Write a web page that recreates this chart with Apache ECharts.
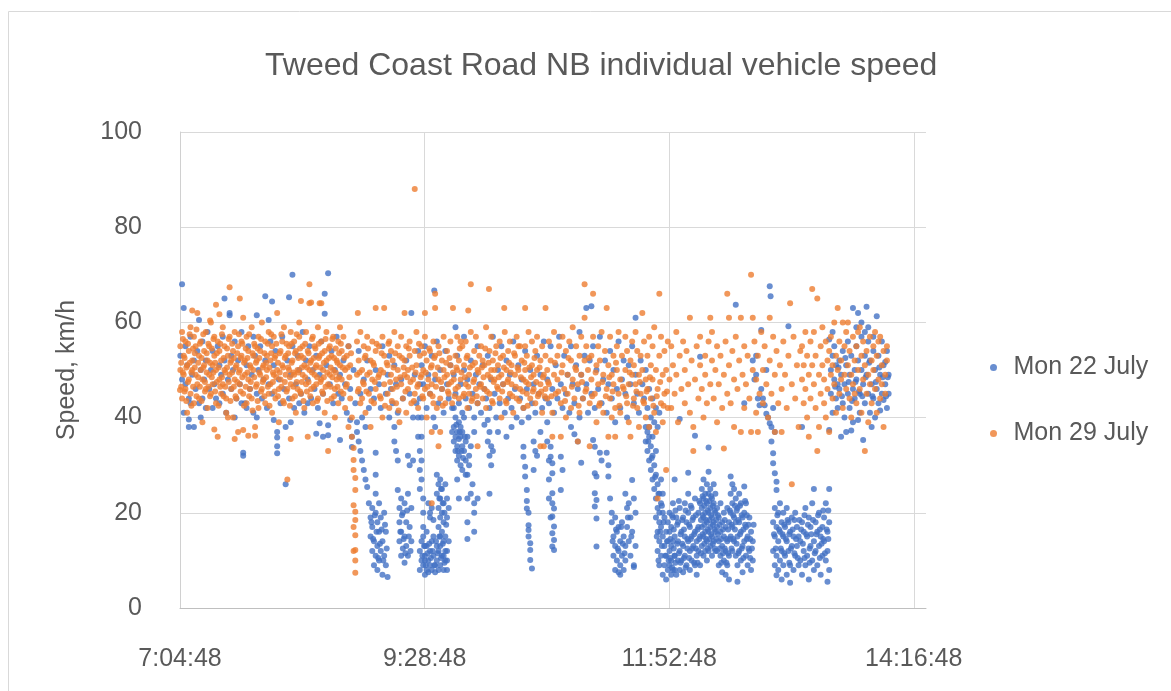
<!DOCTYPE html>
<html>
<head>
<meta charset="utf-8">
<title>Tweed Coast Road NB individual vehicle speed</title>
<script src="https://cdn.jsdelivr.net/npm/echarts@6/dist/echarts.min.js"></script>
<style>
  html, body { margin: 0; padding: 0; background: #fff; }
  #chart { width: 1171px; height: 691px; }
</style>
</head>
<body>
<div id="chart"></div>
<script>
// each point: [minutes after midnight, speed km/h]
const seriesNames = ["Mon 22 July", "Mon 29 July"];
const xTickStart = 424.8;   // 7:04:48
const xTickStep = 144;      // 2:24:00
const xAxisEnd = 864;       // 14:24:00
const yTicks = [0, 20, 40, 60, 80, 100];

// Mon 22 July (blue)
const blueEarly = [
  [424,50],[424,45],[425,53],[426,68],[426,48],[427,63],[427,41],[428,55],[428,47],[429,51],[430,39.6],[430,38],[430,44],[431,43],[431,57],[432,49],[433,38],[433,52],[434,46],[435,54],[436,60.5],[436,43],[437,40],[437,50],[438,56],[438,44],[439,48],[440,52],[440,42],[441,58],[442,46],[443,50],[444,42],[444,54],[445,47],[446,44],[447,55],[448,43],[448,51],[449,49],[450,57],[450,45],[451,65],[451,52],[452,41],[453,48],[454,62],[454,61.5],[455,53],[455,46],[456,50],[457,40],[457,56],[458,44],[459,52],[460,47],[461,58],[461,43],[462,32.6],[462,32],[463,43],[464,42],[464,51],[465,55],[466,46],[467,49],[468,41],[468,57],[469,53],[470,61.5],[470,40],[470,45],[471,50],[472,55],[473,44],[474,48],[475,65.5],[475,52],[476,42],[477,60.5],[477,47],[478,56],[479,64.4],[479,45],[480,39.5],[480,51],[481,54],[482,37],[482,35.8],[482,34],[482,32.5],[483,48],[484,43],[485,57],[486,46],[487,38],[487,26],[488,52],[489,65.3],[489,44],[490,39],[490,49],[491,70],[491,55],[492,42],[493,47],[494,53],[495,43],[495,50],[496,45],[497,58],[498,41],[499,52],[500,43],[500,48],[501,55],[502,44],[503,50],[504,46],[505,36.6],[505,53],[506,42],[507,38.8],[507,49],[508,56],[509,36],[509,45],[510,61.8],[510,66],[511,51],[512,70.3],[512,38.4],[512,36.3],[513,47],[514,54],[515,43],[516,50],[517,57],[518,45],[519,35.3],[519,49]
];
const blueDropA = [
  [520,44],[521,52],[522,47],[523,41],[524,55],[525,39.5],[525,46],[526,36],[526,33.8],[527,50],[528,43],[529,39],[529,37],[530,35],[530,54],[531,33],[531,45],[532,31],[532,40],[533,29],[533,48],[534,27],[534,38],[535,25.4],[535,52],[536,22],[536,42],[537,19],[537,15],[537,46],[538,21],[538,12],[538,17],[539,9],[539,14],[539,44],[540,32.6],[540,28],[540,24],[540,20],[540,11],[540,50],[541,18],[541,13],[541,8],[542,22],[542,16],[542,10],[542,47],[543,19],[543,12],[543,42],[544,14],[544,7],[544,55],[545,20],[545,11],[546,16],[546,9],[546,45],[547,6.5],[547,49],[548,40],[548,53],[549,46],[550,43],[551,38],[551,35],[551,51],[552,33],[552,47],[553,31],[553,24.8],[553,41],[554,21],[554,18],[554,14],[555,23],[555,16],[555,11],[555,48],[556,20],[556,12.5],[556,44],[557,22],[557,15],[557,9.5],[558,18],[558,13],[558,52],[559,32],[559,24],[559,11],[560,30],[560,17],[560,45],[561,21],[561,14],[561,62],[562,31],[562,40],[563,49],[564,43],[565,40],[565,36],[565,54],[566,33],[566,29],[566,25],[566,47],
  [537.5,18],[538.5,14.5],[539.5,19.5],[540.5,16],[541.5,10.5],[542.5,13.5],[543.5,16.5],[544.5,10],[545.5,17.5],[546.5,12.5],[554.5,16],[555.5,19.5],[556.5,14.5],[557.5,11.5],[558.5,20.5],[559.5,15],[560.5,12]
];
const blueDropB = [
  [567,40],[567,36],[567,31],[567,27],[568,23],[568,20],[568,17],[569,13],[569,10],[569,7],
  [566,12],[566,8],[567,14],[567,10],[568,9],[568,15],[569,11],[570,8],[570,13],[570,16],[571,10],[571,7.5],[572,12],[572,9],[573,14],[573,8],[574,11],[574,15],[575,9],[575,7.5],[576,13],[576,10],[577,8],[577,12],[578,15],[578,9],[579,11],[580,8],[580,14],[581,10],[582,12],[582,8],
  [567.5,11],[568.5,13],[569.5,9],[570.5,11.5],[571.5,13.5],[572.5,10.5],[573.5,12],[574.5,9],[575.5,14],[576.5,11.5],[577.5,15],[578.5,10.5],[579.5,13.5],[580.5,9.5],
  [571,22],[572,19],[573,21],[574,18.5],[572,20],[574.5,66.7],
  [576,28],[576,24],[577,26],[577,21],[577,17],[578,27],[578,23],[578,19],[578,13],[579,25],[579,20],[579,16],[580,22],[580,18],[580,11],[581,26],[581,15],[581,12],[582,23],[582,19],[582,10],[583,21],[583,14],
  [577.5,23],[578.5,25],[579.5,22],[580.5,20],[581.5,17.5],
  [586,42],[586,38],[586,35],[587,40],[587,33],[587,36],[588,37],[588,31],[588,34],[589,39],[589,32],[589,35.5],[590,36],[590,30],[590,38],[591,34],[591,29],[591,37],[592,33],[592,40],[593,31],[593,35],[594,28],[594,36],[595,32],[595,30],[596,34],
  [588.5,33],[589.5,37],[590.5,33],[591.5,31.5],[592.5,36],[587.5,38.5],
  [588,27],[589,23],[593,28],[594,23],[594,18],[594,14.5],[596,24],[597,26],[598,22],[598,20],[598,16],[600,23],
  [606,39.5],[606,35],[607,37],[607,32],[608,30],[608,34],[609,33],[607,24],
  [627,33.9],[627,31.8],[628,29.7],[628,27.6],[629,24.8],[629,22.5],[629,20.9],[630,20],[630,17.4],[630,16.4],[630,15],[631,13.6],[631,12.2],[631,10.1],[632,8.3],
  [633,35],[634,33],[635,32],[633,29],
  [641,39],[641,35],[642,31],[642,27],[642,23],[643,19],
  [566,44],[567,51],[568,47],[569,55],[570,42],[571,49],[572,45],[573,53],[574,40],[575,48],[576,56],[577,43],[578,50],[579,46],[580,41],[581,54],[582,47],[583,44],[584,51],[585,42],[586,49],[587,59],[587,45],[588,53],[589,43],[590,47],[591,41],[592,57],[592,50],[593,44],[594,48],[595,42],[596,52],[597,45],[598,40],[599,49],[600,55],[600,43],[601,47],[602,41],[603,51],[604,46],[605,44],[606,53],[607,42],[608,48],[609,57],[610,45],[611,40],[612,50],[613,43],[614,55],[615,47],[616,41],[617,52],[618,44],[619,49],[620,42],[621,56],[622,46],[623,40],[624,51],[625,44],[626,48],[627,42],[628,54],[629,46],[630,40],[631,50],[632,43],[633,47],[634,41],[635,53],[636,45],[637,49],[638,42],[639,56],[640,44],
  [575,38],[585,37],[598,37],[612,37],[620,38],[626,39],[604,38.5],[617,36],[637,37]
];
const blueDropC = [
  [643,33.9],[643,31.8],[644,30.4],[644,28.3],[644,24.1],[644,22],[645,20.9],[644,19.2],[645,17.1],[644,15.7],[645,14.3],[644,12.9],[645,12.2],
  [649,31.8],[650,29],[649,24.8],[655,38],[657,36.5],[659,35],[661,30.5],
  [668,35.3],[669,33.9],[669,28.3],[670,27.6],[669,24.1],[670,22.7],[669,21.3],[670,18.8],[670,12.9],[672,32.6],[673,31],
  [676,32.6],[677,30],[677,27.6],[678,23],[679,20],
  [679,18],[680,15],[680,11],[681,19],[681,13],[681,8],[682,16],[682,10],[683,17],[683,12],[683,7.5],[684,14],[684,9],[685,18],[685,11],[686,15],[686,8],[687,13],[687,10],[684,7],
  [679.5,14],[681.5,16.5],[682.5,12.5],[684.5,17],[685.5,13.5],[686.5,11.5],[688.5,19],[690.5,15],
  [687,24],[688,21],[688,17],[689,22],[689,14],[690,19],[690,11],[691,26.9],[691,16],[692,23],[692,9],[693,20],[693,13],[692,8.6],
  [699,38],[699,35],[700,37],[700,33],[701,36],[701,31],[702,34],[702,29],[703,32],[703,27],[704,30],[704,25],[705,28],[705,23],[706,26],[706,21],[707,24],[707,20],[708,22],[708,27],[709,20],[709,24],[703,36],[705,33],[701,38],
  [700.5,35],[702.5,31.5],[704.5,27.5],[706.5,24],[708.5,21.5],
  [705,19],[706,16],[706,12],[707,18],[707,14],[707,9],[708,17],[708,11],[709,15],[709,7],[710,19],[710,13],[710,9],[711,16],[711,11],[711,6],[712,18],[712,14],[712,8],[713,12],[713,16],[714,10],[714,7],[715,14],[715,19],[716,11],[716,8],
  [705.5,15],[706.5,10],[707.5,16],[708.5,13],[709.5,18],[710.5,11],[711.5,14],[712.5,10],
  [641,48],[642,43],[643,55],[644,46],[645,41],[646,51],[647,44],[648,57],[649,47],[650,42],[651,53],[652,45],[653,49],[654,41],[655,55],[656,47],[657,43],[658,51],[659,46],[660,58],[660,40],[661,49],[662,44],[663,53],[664,63],[664,47],[665,41],[666,52],[667,63.4],[667,45],[668,55],[669,42],[670,50],[671,46],[672,57],[673,43],[674,48],[675,52],[676,41],[677,47],[678,54],[679,44],[680,50],[681,39],[682,46],[683,56],[684,42],[685,48],[686,52],[687,45],[688,40],[689,51],[690,47],[691,55],[692,43],[693,61],[693,49],[694,45],[695,41],[696,52],[697,47],[698,44],[699,50],[700,42],[701,46],[702,40],[703,44],[704,39],[705,42],[706,38],[707,41]
];
const blueSlowA = [
  [713,20],[713,9],[714,17],[714,13],[715,8],[715,22],[716,27],[716,15],[716,11],[717,19],[717,7],[718,14],[718,10],[718,18],[719,12],[719,8],[719,21],
  [720,16],[720,10],[721,19],[721,13],[721,7.5],[722,22],[722,15],[722,11],[723,18],[723,9],[724,28.4],[724,24],[724,20],[724,14],[725,17],[725,12],[725,8],[726,21],[726,15],[726,10],[727,19],[727,13],[728,16],[728,9],[728,23],[729,14],[729,11],[729,7],[730,20],[730,17],[730,12],[731,15],[731,9],[731,22],
  [732,25],[732,21],[732,17],[732,13],[733,27],[733,23],[733,19],[733,15],[733,11],[734,24],[734,20],[734,16],[734,12],[735,26],[735,22],[735,18],[735,14],[735,10],[736,28.6],[736,24],[736,20],[736,16],[736,12],[737,25],[737,21],[737,17],[737,13],[738,23],[738,19],[738,15],[738,11],[739,26],[739,22],[739,18],[739,14],[740,20],[740,16],[740,12],[740,24],
  [741,21],[741,17],[741,12],[742,19],[742,14],[742,9],[743,22],[743,16],[743,11],[744,18],[744,13],[744,7.5],[745,20],[745,15],[745,10],[746,17],[746,12],[746,7],[747,21],[747,14],[747,9],[748,18],[748,11],[748,6],
  [749,27.6],[749,24],[749,20],[749,15],[750,26],[750,22],[750,17],[750,12],[751,25],[751,19],[751,14],[752,23],[752,18],[752,11],
  [753,5.5],[753,21],[753,15],[753,9],[754,24],[754,18],[754,12],[755,22],[755,16],[755,10],[756,19],[756,13],[756,7.5],[757,25.5],[757,20],[757,14],[758,17],[758,11],[758,22],[759,15],[759,9],[760,19],[760,12],[761,16],[761,8],[762,14],[762,10],
  [762,52],[763,48],[764,49],[765,44],[766,42.6],[767,58.4],[767,46],[768,44],[769,42.6],[770,40.8],[771,40],[772,67.6],[772.5,65.5],[772,38.8],[773,38],[774,42],[775,37],[773,35],[774,32.5],[774,30.4],[775,28.3],[776,26.5],[776,24.8],[764,53],[770,50],
  [719,39.7],[728,36.2],[736,33.7],[731,52.8],[752,63.7],[757,43],[783,59.2]
];
const blueSlowFill = [
  [713.5,14.5],[713.5,10.5],[714.5,19.5],[714.5,8.5],[715.5,16.5],[715.5,12.5],[716.5,20.5],[716.5,9.5],[717.5,13.5],[717.5,17.5],[718.5,11.5],[718.5,22.5],[719.5,15.5],[719.5,9.5],[720.5,18.5],[720.5,13.5],[721.5,10.5],[721.5,16.5],[722.5,20.5],[722.5,8.5],[723.5,14.5],[723.5,12.5],[724.5,17.5],[724.5,10.5],[725.5,21.5],[725.5,14.5],[726.5,12.5],[726.5,18.5],[727.5,9.5],[727.5,15.5],[728.5,19.5],[728.5,12.5],[729.5,16.5],[729.5,9.5],[730.5,14.5],[730.5,22.5],[731.5,11.5],[731.5,18.5],
  [732.5,15.5],[732.5,19.5],[732.5,23.5],[733.5,13.5],[733.5,17.5],[733.5,21.5],[734.5,18.5],[734.5,14.5],[734.5,22.5],[735.5,16.5],[735.5,20.5],[735.5,12.5],[736.5,18.5],[736.5,22.5],[736.5,14.5],[737.5,19.5],[737.5,15.5],[737.5,23.5],[738.5,17.5],[738.5,13.5],[738.5,21.5],[739.5,16.5],[739.5,20.5],[739.5,12.5],[740.5,18.5],[740.5,14.5],
  [741.5,15.5],[741.5,19.5],[742.5,12.5],[742.5,17.5],[743.5,14.5],[743.5,9.5],[744.5,16.5],[744.5,11.5],[745.5,18.5],[745.5,12.5],[746.5,14.5],[746.5,9.5],[747.5,16.5],[747.5,11.5],[748.5,14.5],[748.5,20.5],[749.5,17.5],[749.5,12.5],[750.5,19.5],[750.5,14.5],[751.5,21.5],[751.5,16.5],[752.5,13.5],[752.5,20.5],[753.5,18.5],[753.5,11.5],[754.5,15.5],[754.5,21.5],[755.5,12.5],[755.5,19.5],[756.5,16.5],[756.5,10.5],[757.5,17.5],[757.5,22.5],[758.5,14.5],[758.5,19.5],[759.5,12.5],[759.5,17.5],[760.5,14.5],[760.5,10.5],[761.5,12.5],[762.5,17.5],
  [774.5,15.5],[775.5,12.5],[776.5,19.5],[777.5,16.5],[778.5,12.5],[779.5,15.5],[780.5,17.5],[780.5,11.5],[781.5,14.5],[782.5,18.5],[783.5,15.5],[783.5,9.5],[784.5,12.5],[785.5,16.5],[786.5,18.5],[786.5,11.5],[787.5,14.5],[788.5,10.5],[789.5,18.5],[790.5,16.5],[791.5,13.5],[792.5,19.5],[792.5,10.5],[793.5,15.5],[794.5,17.5],[795.5,12.5],[795.5,9.5],[796.5,15.5],[797.5,18.5],[798.5,11.5],[799.5,15.5],[800.5,19.5],[801.5,10.5],[801.5,16.5],[802.5,13.5],[803.5,20.5],[803.5,14.5],[804.5,11.5],[805.5,16.5],[806.5,20.5],[806.5,14.5]
];
const blueSlowB = [
  [774,18],[774,12],[775,21],[775,15],[775,9],[776,17],[776,11],[776,6.9],[777,20],[777,14],[777,8],[778,22],[778,16],[778,10],[779,18],[779,12],[779,6],[780,20],[780,15],[780,9],[781,17],[781,11],[782,21],[782,14],[782,7],[783,18],[783,12],[784,16],[784,9],[784,5.3],[785,19],[785,13],[786,15],[786,8],[787,20],[787,11],[788,17],[788,13],[789,9],[789,15],
  [790,14],[790,10],[791,18],[791,7],[792,16],[792,12],[793,21],[793,9],[794,15],[794,11],[795,19],[795,6],[796,13],[796,17],[797,10],[797,22],[798,25],[798,14],[798,8],[799,18],[799,12],[800,16],[800,9],[801,20],[801,13],[802,15],[802,7],[803,17],[803,11],[804,14],[804,19],[805,10],[805,22],[806,16],[806,12],[807,25],[807,18],[807,8],[806,5.5]
];
const blueLate = [
  [791,38],[807,37.4],[807,56.4],[809,58],
  [808,50],[808,45],[809,53],[809,41],[810,48],[810,55],[811,44],[811,51],[812,47],[812,42],[813,52],[813,46],[814,36],[814,49],[815,43],[815,54],[816,47],[816,40],[817,37],[817,51],[818,45],[818,56],[819,49],[819,42],[820,37.3],[820,53],[821,46],[821,39],[821,63],[822,50],[822,44],[823,55],[823,48],[824,39.5],[824,62],[824,52],[825,45],[825,41],[826,50],[826,57],[827,47],[827,35.3],[828,53],[828,43],[829,63.3],[829,49],[830,45],[830,56],[831,41],[831,52],[832,38],[832,47],[833,54],[833,44],[834,50],[834,40],[835,61.3],[835,46],[836,53],[836,43],[837,41.5],[837,49],[838,56],[838,45],[839,43.7],[839,51],[840,51.7],[840,47],[841,54],[841,42],[842,49],[842,45],
  [826,60],[828,58],[830,59],[833,57],[823,59],
  [810.5,46.5],[812.5,50.5],[814.5,44.5],[816.5,52.5],[818.5,47.5],[820.5,43.5],[822.5,47.5],[824.5,45.5],[826.5,44.5],[828.5,48.5],[830.5,51.5],[832.5,44.5],[834.5,47.5],[836.5,50.5],[838.5,48.5],[840.5,44.5],[841.5,48.5]
];

// Mon 29 July (orange)
const orangeEarly = [
  [424,52],[424,47],[425,55],[425,50],[426,44],[426,58],[427,49],[427,53],[428,46],[428,56],[429,51],[429,41],
  [430,54],[430,48],[431,59],[431,45],[432,52],[432,50],[433,57],[433,43],[434,49],[434,55],[435,47],[435,62],
  [436,53],[436,44],[437,50],[437,56],[438,48],[438,39],[439,54],[439,51],[440,46],[440,58],[441,52],[441,42],
  [442,49],[442,55],[443,45],[443,60],[444,51],[444,47],[445,57],[445,53],[446,43],[446,50],[447,56],[447,36],
  [448,48],[448,54],[449,52],[449,45],[450,59],[450,47],[451,50],[451,55],[452,44],[452,41],[453,53],[454,67.4],
  [454,49],[454,57],[455,46],[455,52],[456,54],[456,40],[457,48],[457,58],[458,51],[458,44],[459,55],[459,37],
  [460,50],[460,47],[461,56],[461,53],[462,45],[462,61],[463,49],[463,52],[464,43],[464,57],[465,48],[465,54],
  [466,51],[466,46],[467,59],[467,44],[468,53],[468,50],[469,55],[469,38],[470,47],[470,52],[471,57],[471,42],
  [472,49],[472,54],[473,46],[473,60],[474,51],[474,48],[475,56],[475,43],[476,53],[476,50],[477,45],[477,58],
  [478,52],[478,47],[479,55],[479,41],[480,49],[480,57],[481,44],[481,53],[482,50],[482,62],[483,46],[483,39],
  [484,54],[484,48],[485,51],[485,56],[486,43],[486,59],[487,49],[487,53],[488,46],[488,27],[489,55],[489,50],
  [490,47],[490,58],[491,52],[491,44],[492,56],[492,49],[493,41],[493,54],[494,50],[494,46],[495,57],[495,60],
  [496,53],[496,45],[497,49],[497,55],[498,42],[498,51],[499,58],[499,47],[500,54],[500,36],[501,50],[501,64],
  [502,46],[502,52],[503,57],[503,43],[504,49],[504,55],[505,51],[505,47],[506,59],[506,44],[507,53],[507,64],
  [508,48],[508,56],[509,50],[509,45],[510,54],[510,41],[511,52],[511,58],[512,47],[512,33],[513,55],[513,49],
  [514,44],[514,53],[515,50],[515,57],[516,46],[516,40],[517,52],[517,48],[518,56],[518,43],[519,51],[519,59],
  [424.8,45.8],[432,62.5],[442.5,60.4],[446,63.7],[448,61.7],[460,65],[445,37.5],[457,35.5],[462,37.4],[465,36.2],[469,36.2],[490,35.5],[453,40],[496,64.5],[501,68],[502,64.2],[508,64]
];
const orangeEarlyFill = [
  [424.5,48.5],[424.5,54.5],[425.5,46.5],[425.5,51.5],[426.5,56.5],[426.5,49.5],[427.5,45.5],[427.5,52.5],[428.5,50.5],[428.5,43.5],[429.5,55.5],[429.5,47.5],[430.5,51.5],[430.5,57.5],[431.5,49.5],[431.5,42.5],[432.5,54.5],[432.5,46.5],[433.5,50.5],[433.5,53.5],[434.5,44.5],[434.5,58.5],[435.5,51.5],[435.5,48.5],[436.5,55.5],[436.5,46.5],[437.5,52.5],[437.5,43.5],[438.5,50.5],[438.5,57.5],[439.5,47.5],[439.5,45.5],[440.5,53.5],[440.5,49.5],[441.5,55.5],[441.5,46.5],[442.5,51.5],[442.5,44.5],[443.5,48.5],[443.5,54.5],[444.5,56.5],[444.5,49.5],[445.5,45.5],[445.5,51.5],[446.5,53.5],[446.5,47.5],[447.5,50.5],[447.5,42.5],[448.5,55.5],[448.5,46.5],[449.5,48.5],[449.5,57.5],[450.5,52.5],[450.5,44.5],[451.5,49.5],[451.5,46.5],[452.5,54.5],[452.5,50.5],[453.5,47.5],[453.5,56.5],[454.5,51.5],[454.5,43.5],[455.5,49.5],[455.5,55.5],[456.5,46.5],[456.5,52.5],[457.5,50.5],[457.5,44.5],[458.5,53.5],[458.5,47.5],[459.5,57.5],[459.5,49.5],
  [460.5,45.5],[460.5,52.5],[461.5,48.5],[461.5,55.5],[462.5,51.5],[462.5,42.5],[463.5,54.5],[463.5,46.5],[464.5,49.5],[464.5,52.5],[465.5,44.5],[465.5,57.5],[466.5,50.5],[466.5,47.5],[467.5,53.5],[467.5,41.5],[468.5,55.5],[468.5,48.5],[469.5,46.5],[469.5,51.5],[470.5,54.5],[470.5,43.5],[471.5,49.5],[471.5,52.5],[472.5,45.5],[472.5,56.5],[473.5,50.5],[473.5,47.5],[474.5,53.5],[474.5,44.5],[475.5,48.5],[475.5,51.5],[476.5,55.5],[476.5,46.5],[477.5,50.5],[477.5,42.5],[478.5,53.5],[478.5,57.5],[479.5,47.5],[479.5,49.5],[480.5,45.5],[480.5,52.5],[481.5,55.5],[481.5,48.5],[482.5,44.5],[482.5,51.5],[483.5,53.5],[483.5,49.5],[484.5,46.5],[484.5,57.5],[485.5,50.5],[485.5,43.5],[486.5,52.5],[486.5,47.5],[487.5,55.5],[487.5,45.5],[488.5,50.5],[488.5,53.5],[489.5,48.5],[489.5,42.5],
  [490.5,51.5],[490.5,55.5],[491.5,46.5],[491.5,49.5],[492.5,53.5],[492.5,44.5],[493.5,47.5],[493.5,57.5],[494.5,52.5],[494.5,49.5],[495.5,45.5],[495.5,54.5],[496.5,50.5],[496.5,47.5],[497.5,52.5],[497.5,43.5],[498.5,55.5],[498.5,48.5],[499.5,50.5],[499.5,45.5],[500.5,53.5],[500.5,47.5],[501.5,51.5],[501.5,44.5],[502.5,56.5],[502.5,49.5],[503.5,46.5],[503.5,52.5],[504.5,50.5],[504.5,54.5],[505.5,43.5],[505.5,48.5],[506.5,52.5],[506.5,55.5],[507.5,47.5],[507.5,50.5],[508.5,45.5],[508.5,53.5],[509.5,51.5],[509.5,48.5],[510.5,56.5],[510.5,46.5],[511.5,49.5],[511.5,43.5],[512.5,52.5],[512.5,54.5],[513.5,46.5],[513.5,50.5],[514.5,48.5],[514.5,56.5],[515.5,52.5],[515.5,44.5],[516.5,49.5],[516.5,54.5],[517.5,46.5],[517.5,51.5],[518.5,53.5],[518.5,48.5],[519.5,45.5],[519.5,55.5]
];
const orangeDrop = [
  [520,48],[520,54],[521,45],[521,57],[522,50],[522,42],[523,53],[523,47],[524,38],[524,55],[525,44],[525,51],[526,40],[526,36],[527,33.6],[527,31.1],[527,29],[528,27.3],[528,24.8],[527,21.6],[528,20.2],[528,18.5],[527,17],[528,15.3],[528,12.2],[527,12],[528,10],[528,7.4],[529,49],[529,56],[529.5,62],[530,46],[530,52],[531,43],[531,58],
  [520.5,50.5],[521.5,52.5],[522.5,46.5],[523.5,50.5],[524.5,48.5],[525.5,53.5],[529.5,45.5],[530.5,49.5]
];
const orangeMid = [
  [532,50],[532,44],[533,55],[533,47],[534,41],[534,53],[535,49],[535,57],[536,45],
  [537,52],[537,38],[538,48],[538,56],[539,43],[539,51],[540,54],[540,46],[540,63],
  [542,49],[542,55],[543,44],[543,50],[544,57],[544,40],[545,47],[545,53],[545,63],
  [547,51],[547,45],[548,56],[548,42],[549,49],[549,54],[550,46],[550,52],[551,58],
  [552,48],[552,43],[553,55],[553,50],[554,39],[554,53],[555,47],[555,57],[556,44],
  [557,52],[557,49],[557,62],[558,55],[558,41],[559,50],[559,46],[560,56],[560,53],[561,43],
  [562,48],[563,88],[563,54],[563,45],[564,51],[564,58],[565,47],[565,42],[566,53],
  [567,49],[567,55],[568,44],[568,50],[569,57],[569,62],[569,46],[570,52],[570,40],[571,48],
  [572,54],[572,45],[573,51],[573,47],[574,56],[574,43],[575,49],[575,53],[576,42],
  [577,48],[577,55],[578,44],[578,37],[579,52],[579,46],[580,50],[580,57],[581,43],
  [582,49],[582,54],[583,45],[583,47],[584,51],[584,56],[585,43],[585.5,63],[586,48],
  [587,53],[587,46],[588,50],[588,57],[589,44],[589,52],[590,48],[590,56],[591,55],
  [592,45],[592,51],[593,47],[593,56],[594,42],[594,53],[595,49],[595,45],[596,58],
  [597,51],[597,44],[598,54],[598,48],[599,46],[599,57],[600,50],[600,43],[601,53],
  [602,47],[602,55],[603,44],[603,52],[604,51],[604,46],[605,59],[605,42],[606,49],
  [607,54],[607,45],[608,50],[608,57],[609,43],[609,52],[610,48],[610,50],[611,55],
  [612,46],[612,51],[613,44],[613,56],[614,49],[614,40],[615,53],[615,47],[616,58],
  [617,50],[617,43],[618,54],[618,48],[619,45],[619,56],[620,51],[620,47],[621,41],
  [622,53],[622,49],[623,57],[623,44],[624,50],[624,55],[625,46],[625,55],[626,52],
  [627,48],[627,42],[628,55],[628,50],[629,45],[629,53],[630,47],[630,58],[631,44],
  [632,51],[632,56],[633,46],[633,49],[634,54],[634,43],[635,50],[635,57],[636,45],
  [637,52],[637,47],[638,55],[638,41],[639,49],[639,34],[640,53],[640,46],
  [573,22],[573,37],[577,34],[600,34],[637,34],
  [575,66],[575,63],[594.5,62.5],[596,68],[606.7,67],[615.7,63],[628,63],[640,63]
];
const orangeMidFill = [
  [532.5,47.5],[533.5,52.5],[534.5,45.5],[535.5,54.5],[536.5,49.5],[537.5,43.5],[538.5,51.5],[539.5,47.5],[540.5,55.5],[541.5,48.5],[542.5,44.5],[543.5,53.5],[544.5,49.5],[545.5,42.5],[546.5,51.5],[547.5,55.5],[548.5,47.5],[549.5,43.5],[550.5,50.5],[551.5,53.5],[552.5,46.5],[553.5,41.5],[554.5,48.5],[555.5,52.5],[556.5,50.5],[557.5,45.5],[558.5,48.5],[559.5,54.5],[560.5,47.5],[561.5,50.5],[562.5,43.5],[563.5,49.5],[564.5,46.5],[565.5,55.5],[566.5,48.5],[567.5,44.5],[568.5,53.5],[569.5,49.5],[570.5,46.5],[571.5,54.5],[572.5,50.5],[573.5,44.5],[574.5,52.5],[575.5,46.5],[576.5,50.5],[577.5,53.5],[578.5,47.5],[579.5,42.5],[580.5,48.5],[581.5,51.5],[582.5,45.5],[583.5,52.5],[584.5,47.5],[585.5,49.5],[586.5,44.5],[587.5,50.5],[588.5,46.5],[589.5,54.5],[590.5,49.5],[591.5,44.5],[592.5,48.5],[593.5,52.5],[594.5,46.5],[595.5,50.5],[596.5,43.5],[597.5,47.5],[598.5,51.5],[599.5,44.5],
  [600.5,49.5],[601.5,46.5],[602.5,50.5],[603.5,48.5],[604.5,54.5],[605.5,45.5],[606.5,51.5],[607.5,48.5],[608.5,43.5],[609.5,47.5],[610.5,53.5],[611.5,46.5],[612.5,48.5],[613.5,52.5],[614.5,45.5],[615.5,50.5],[616.5,43.5],[617.5,47.5],[618.5,51.5],[619.5,49.5],[620.5,44.5],[621.5,53.5],[622.5,46.5],[623.5,50.5],[624.5,43.5],[625.5,48.5],[626.5,45.5],[627.5,51.5],[628.5,47.5],[629.5,42.5],[630.5,50.5],[631.5,48.5],[632.5,45.5],[633.5,52.5],[634.5,47.5],[635.5,44.5],[636.5,50.5],[637.5,45.5],[638.5,48.5],[639.5,44.5],
  [641.5,47.5],[643.5,44.5],[645.5,51.5],[647.5,45.5],[649.5,49.5],[651.5,43.5],[653.5,52.5],[655.5,46.5],[657.5,50.5],[659.5,42.5],[661.5,47.5],[663.5,45.5],[665.5,52.5],[667.5,44.5],[669.5,49.5],[671.5,42.5],[673.5,47.5],[675.5,44.5],[677.5,48.5],[679.5,45.5],[681.5,51.5],[683.5,42.5],[685.5,46.5],[687.5,44.5],[689.5,49.5],[691.5,42.5],[693.5,45.5],[695.5,47.5],[697.5,43.5],[699.5,45.5],[701.5,48.5],[703.5,42.5],[705.5,44.5],[707.5,47.5],[709.5,42.5],[711.5,45.5]
];
const orangeLate = [
  [641,50],[641,44],[642,56],[642,47],[643,52],[644,36],[644,41],[645,58],[645,49],[646,45],
  [647,53],[647,48],[648,55],[649,36],[649,43],[650,51],[650,57],[651,46],[652,40],[652,54],
  [653,49],[653,45],[654,56],[655,52],[655,42],[656,48],[656,59],[657,44],[658,50],[658,55],
  [659,35],[659,47],[660,53],[660,41],[661,57],[661,49],[662,44],[663,68],[663,61],[663,52],
  [664,46],[664,55],[665,50],[666,34],[666,43],[667,53],[667,48],[668,66],[668,57],[669,45],
  [670,51],[670,39],[671,55],[671,47],[672,43],[672,52],[673,58],[674,49],[674,41],[675,54],
  [676,63],[676,46],[677,36],[677,51],[678,44],[678,57],[679,49],[679,40],[680,53],[680,47],
  [681,36],[681,42],[682,55],[682,50],[683,45],[683,58],[684,48],[684,41],[685,53],[686,46],
  [687,57],[687,50],[688,43],[688,54],[689,47],[689,39],[690,52],[690,36],[691,49],[691,56],
  [692,44],[692,51],[693,58],[693,47],[694,42],[694,54],[695,49],[695,38],[696,53],[696,45],
  [697,62],[697,50],[698,56],[698,43],[699,48],[699,40],[700,53],[700,46],[701,57],[701,38],
  [702,51],[702,44],[703,55],[703,48],[704,41],[704,59],[705,50],[705,37],[706,23],[706,46],
  [707,66],[707,53],[708,43],[708,57],[709,49],[709,39],[710,54],[710,45],[711,29],[711,50],[712,42],[712,56],
  [713,48],[714,55],[714,42],[715,51],[716,45],[717,58],[717,49],[718,39],[719,53],[720,46],
  [721,56],[722,43],[722,50],[723,54],[724,47],[725,61],[725,41],[726,52],[727,38],[727,33],[728,48],[729,55],
  [730,44],[731,51],[731,57],[732,46],[733,40],[734,53],[734,49],[735,43],[736,56],[737,61],[737,47],
  [738,58],[738,52],[739,44],[740,50],[741,39],[741,55],[742,47],[743,53],[744,42],[745,33.5],[745,49],
  [746,56],[747,45],[747,66],[748,61],[748,51],[749,43],[750,54],[751,48],[751,38],[752,57],[753,46],
  [754,52],[755,37],[755,61],[756,49],[757,55],[757,42],[758,47],[759,53],[760,44],[761,70],[761,37],
  [762,50],[762,61],[763,56],[764,41],[764,48],[765,37],[765,53],[766,45],[767,58],[768,50],[768,43],
  [769,55],[770,47],[771,40],[772,61],[772,52],[773,45],[774,57],[775,37],[775,49],[776,54],[777,43],
  [778,51],[779,37],[779,46],[780,56],[781,49],[782,42],[783,53],[784,64],[785,26],[785,47],[786,57],[787,44],[788,51],[789,38],[790,54]
];
const orangeEnd = [
  [791,48],[791,55],[792,43],[792,51],[793,58],[793,46],[794,40],[794,53],[795,36],[795,49],[796,56],[796,44],[797,67],[797,51],
  [798,47],[798,58],[799,42],[799,53],[800,65],[800,33],[801,49],[801,38],[802,55],[802,45],[803,51],[803,59],[804,43],[804,48],
  [805,56],[805,40],[806,52],[806,46],[807,37],[807,54],[808,49],[808,57],[809,44],[809,51],[810,60],[810,47],[811,53],[811,41],
  [812,63],[812,50],[813,56],[813,45],[814,52],[814,48],[815,60],[815,42],[816,55],[816,49],[817,46],[817,58],[818,60],[818,51],
  [819,44],[819,54],[820,49],[820,40],[821,57],[821,47],[822,52],[822,45],[823,55],[823,43],[824,50],[824,58],[825,59],[825,46],
  [826,53],[826,41],[827,48],[827,56],[828,33],[828,51],[829,45],[829,54],[830,49],[830,39],[831,57],[831,47],[832,52],[832,43],
  [833,55],[833,50],[834,46],[834,58],[835,41],[835,53],[836,48],[836,56],[837,57],[837,44],[838,51],[838,47],[839,38],[839,54],[840,49],[840,45],[841,52],[841,55]
];

const blueData = [].concat(blueEarly, blueDropA, blueDropB, blueDropC, blueSlowA, blueSlowFill, blueSlowB, blueLate);
const orangeData = [].concat(orangeEarly, orangeEarlyFill, orangeDrop, orangeMid, orangeMidFill, orangeLate, orangeEnd);

// x axis runs in seconds from the first tick so the 2:24:00 steps land on 7:04:48
const toPoint = p => [(p[0] - xTickStart) * 60, p[1]];
const pad = n => (n < 10 ? "0" : "") + n;
function clockLabel(v) {
  const s = Math.round(v + xTickStart * 60);
  return Math.floor(s / 3600) + ":" + pad(Math.floor((s % 3600) / 60)) + ":" + pad(s % 60);
}

const textColor = "#595959";
const fontFamily = '"Liberation Sans", Arial, sans-serif';

const chart = echarts.init(document.getElementById("chart"));
chart.setOption({
  animation: false,
  textStyle: { fontFamily: fontFamily },
  title: {
    text: "Tweed Coast Road NB individual vehicle speed",
    left: 260,
    top: 45,
    textStyle: { fontSize: 32, fontWeight: "normal", color: textColor, fontFamily: fontFamily }
  },
  legend: {
    orient: "vertical",
    left: 985,
    top: 350,
    itemWidth: 30,
    itemHeight: 7,
    itemGap: 41,
    icon: "circle",
    data: seriesNames,
    textStyle: { fontSize: 25, color: textColor, fontFamily: fontFamily }
  },
  grid: { left: 180, right: 245, top: 132, bottom: 83 },
  graphic: [{
    type: "rect",
    silent: true,
    z: -10,
    shape: { x: 8.5, y: 11.5, width: 1200, height: 720 },
    style: { fill: "none", stroke: "#d9d9d9", lineWidth: 1 }
  }],
  xAxis: {
    type: "value",
    min: 0,
    max: (xAxisEnd - xTickStart) * 60,
    interval: xTickStep * 60,
    axisLine: { show: true, lineStyle: { color: "#bfbfbf", width: 1 } },
    axisTick: { show: false },
    splitLine: { show: true, showMaxLine: false, lineStyle: { color: "#d9d9d9" } },
    axisLabel: {
      formatter: clockLabel,
      showMaxLabel: false,
      fontSize: 25,
      color: textColor,
      margin: 39
    }
  },
  yAxis: {
    type: "value",
    min: yTicks[0],
    max: yTicks[yTicks.length - 1],
    interval: yTicks[1] - yTicks[0],
    name: "Speed, km/h",
    nameLocation: "middle",
    nameGap: 100,
    nameTextStyle: { fontSize: 25, color: textColor },
    axisLine: { show: true, lineStyle: { color: "#d0d0d0" } },
    axisTick: { show: false },
    splitLine: { lineStyle: { color: "#d9d9d9" } },
    axisLabel: { fontSize: 25, color: textColor, margin: 38 }
  },
  series: [
    {
      name: seriesNames[0],
      type: "scatter",
      symbolSize: 6,
      itemStyle: { color: "#4472C4" },
      emphasis: { disabled: true },
      data: blueData.map(toPoint)
    },
    {
      name: seriesNames[1],
      type: "scatter",
      symbolSize: 6,
      itemStyle: { color: "#ED7D31" },
      emphasis: { disabled: true },
      data: orangeData.map(toPoint)
    }
  ]
});
</script>
</body>
</html>
